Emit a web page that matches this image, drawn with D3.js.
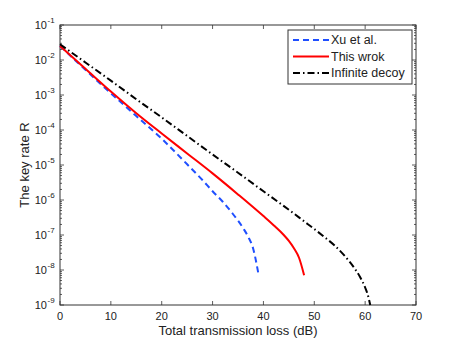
<!DOCTYPE html>
<html><head><meta charset="utf-8">
<script src="https://cdn.jsdelivr.net/npm/d3@7"></script>
<style>
body{margin:0;background:#fff;}
text{font-family:"Liberation Sans",Arial,sans-serif;fill:#222;}
</style></head>
<body><svg id="c" width="460" height="346"></svg>
<script>
// Data: x = total transmission loss (dB), y = log10 of key rate R
const xuLoss   = [0,5,10,15,20,25,28,30,32,34,36,37,38,39];
const xuLogR   = [-1.6,-2.28,-2.95,-3.6,-4.25,-4.98,-5.43,-5.75,-6.05,-6.4,-6.8,-7.05,-7.4,-8.1];
const thisLoss = [0,5,10,15,20,25,30,35,40,42,44,45,46,47,48];
const thisLogR = [-1.6,-2.25,-2.9,-3.52,-4.1,-4.67,-5.24,-5.84,-6.46,-6.72,-7.0,-7.17,-7.38,-7.65,-8.15];
const infLoss  = [0,5,10,15,20,25,30,35,40,45,48,50,52,54,56,58,59,60,60.5,61];
const infLogR  = [-1.55,-2.07,-2.59,-3.12,-3.64,-4.17,-4.70,-5.22,-5.75,-6.28,-6.61,-6.83,-7.06,-7.30,-7.60,-7.97,-8.2,-8.5,-8.7,-9.0];
const seriesNames = ["Xu et al.","This wrok","Infinite decoy"];
const xTicks = [0,10,20,30,40,50,60,70];
const yExps = [-1,-2,-3,-4,-5,-6,-7,-8,-9];

const L=60,R=416,T=25,B=305;
const svg=d3.select("#c");
const x=d3.scaleLinear().domain([0,70]).range([L,R]);
const y=d3.scaleLog().domain([1e-9,1e-1]).range([B,T]);

svg.append("rect").attr("x",L).attr("y",T).attr("width",R-L).attr("height",B-T)
  .attr("fill","none").attr("stroke","#333").attr("stroke-width",1);

const g=svg.append("g").attr("stroke","#333").attr("stroke-width",0.8);
xTicks.forEach(v=>{
  g.append("line").attr("x1",x(v)).attr("x2",x(v)).attr("y1",B).attr("y2",B-4);
  g.append("line").attr("x1",x(v)).attr("x2",x(v)).attr("y1",T).attr("y2",T+4);
});
svg.selectAll(".xl").data(xTicks).join("text").attr("x",d=>x(d)).attr("y",B+15)
  .attr("text-anchor","middle").attr("font-size",11).text(d=>d);
yExps.forEach(e=>{
  const v=Math.pow(10,e);
  g.append("line").attr("x1",L).attr("x2",L+4).attr("y1",y(v)).attr("y2",y(v));
  g.append("line").attr("x1",R).attr("x2",R-4).attr("y1",y(v)).attr("y2",y(v));
  if(e>-9){
    for(let m=2;m<=9;m++){
      const mv=m*Math.pow(10,e-1);
      g.append("line").attr("x1",L).attr("x2",L+2).attr("y1",y(mv)).attr("y2",y(mv));
      g.append("line").attr("x1",R).attr("x2",R-2).attr("y1",y(mv)).attr("y2",y(mv));
    }
  }
  svg.append("text").attr("x",47).attr("y",y(v)+4).attr("text-anchor","end").attr("font-size",11).text("10");
  svg.append("text").attr("x",47.5).attr("y",y(v)-2).attr("font-size",8).text(e);
});

svg.append("text").attr("x",(L+R)/2).attr("y",335).attr("text-anchor","middle").attr("font-size",13)
  .text("Total transmission loss (dB)");
svg.append("text").attr("transform",`translate(29,${(T+B)/2}) rotate(-90)`).attr("text-anchor","middle")
  .attr("font-size",13).text("The key rate R");

const line=d3.line().x(d=>x(d[0])).y(d=>y(Math.pow(10,d[1]))).curve(d3.curveMonotoneX);
const zip=(a,b)=>a.map((v,i)=>[v,b[i]]);
const styles=[
  {c:"#1f4fff",dash:"6,4"},
  {c:"#ff0000",dash:null},
  {c:"#000",dash:"7,3,1.5,3"}
];
const data=[zip(xuLoss,xuLogR),zip(thisLoss,thisLogR),zip(infLoss,infLogR)];
data.forEach((d,i)=>{
  svg.append("path").datum(d).attr("d",line).attr("fill","none").attr("stroke",styles[i].c)
    .attr("stroke-width",2).attr("stroke-dasharray",styles[i].dash);
});

const lg=svg.append("g");
lg.append("rect").attr("x",288).attr("y",30).attr("width",124).attr("height",54)
  .attr("fill","#fff").attr("stroke","#333").attr("stroke-width",1);
seriesNames.forEach((n,i)=>{
  const yy=40+i*16.5;
  lg.append("line").attr("x1",293).attr("x2",329).attr("y1",yy).attr("y2",yy)
    .attr("stroke",styles[i].c).attr("stroke-width",2).attr("stroke-dasharray",styles[i].dash);
  lg.append("text").attr("x",331).attr("y",yy+4).attr("font-size",12.5).text(n);
});
</script></body></html>
